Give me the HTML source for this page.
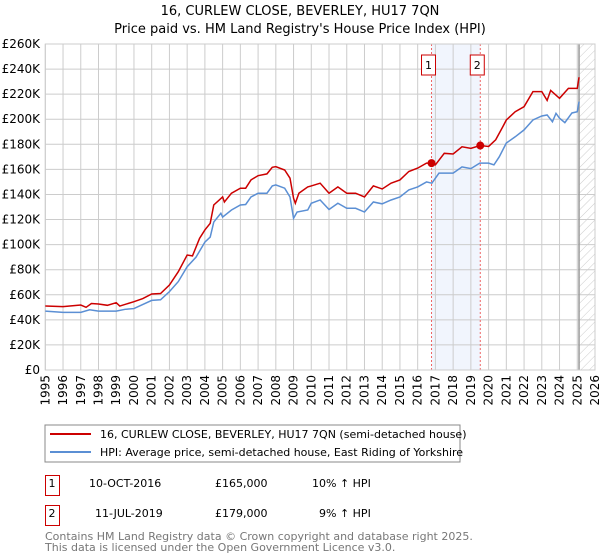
<!DOCTYPE html>
<html><head><meta charset="utf-8"><style>
body{margin:0;background:#fff;font-family:"Liberation Sans","DejaVu Sans",sans-serif}
#c{position:absolute;left:0;top:0}
.t{font-family:"DejaVu Sans","Liberation Sans",sans-serif}
</style></head><body>
<svg id="c" width="600" height="560" xmlns="http://www.w3.org/2000/svg">
<defs><pattern id="hatch" width="6" height="6" patternUnits="userSpaceOnUse" patternTransform="rotate(45)"><line x1="0" y1="0" x2="0" y2="6" stroke="#ccc" stroke-width="1"/></pattern></defs>
<text x="300" y="15" text-anchor="middle" font-size="13" class="t">16, CURLEW CLOSE, BEVERLEY, HU17 7QN</text>
<text x="300" y="33" text-anchor="middle" font-size="13" class="t">Price paid vs. HM Land Registry's House Price Index (HPI)</text>
<g id="grid"></g><g id="plot"></g>
<g>
<rect x="45" y="425" width="415" height="37" fill="#fff" stroke="#888"/>
<line x1="50" y1="434" x2="91" y2="434" stroke="#cc0000" stroke-width="2"/>
<text x="100" y="438" font-size="11" class="t">16, CURLEW CLOSE, BEVERLEY, HU17 7QN (semi-detached house)</text>
<line x1="50" y1="452" x2="91" y2="452" stroke="#5b8fd4" stroke-width="2"/>
<text x="100" y="456" font-size="11" class="t">HPI: Average price, semi-detached house, East Riding of Yorkshire</text>
</g>
<g font-size="11" class="t">
<rect x="45.5" y="475.5" width="14" height="20" fill="none" stroke="#cc0000"/><text x="52" y="487" text-anchor="middle">1</text>
<text x="89" y="487">10-OCT-2016</text><text x="215" y="487">£165,000</text><text x="312" y="487">10% ↑ HPI</text>
<rect x="45.5" y="505.5" width="14" height="20" fill="none" stroke="#cc0000"/><text x="52" y="517" text-anchor="middle">2</text>
<text x="95" y="517">11-JUL-2019</text><text x="215" y="517">£179,000</text><text x="319" y="517">9% ↑ HPI</text>
</g>
<text x="45" y="540" font-size="11" fill="#777" class="t">Contains HM Land Registry data © Crown copyright and database right 2025.</text>
<text x="45" y="551" font-size="11" fill="#777" class="t">This data is licensed under the Open Government Licence v3.0.</text>
</svg>
<script>
const yTicks=[0,20,40,60,80,100,120,140,160,180,200,220,240,260];
const xYears=[1995,1996,1997,1998,1999,2000,2001,2002,2003,2004,2005,2006,2007,2008,2009,2010,2011,2012,2013,2014,2015,2016,2017,2018,2019,2020,2021,2022,2023,2024,2025,2026];
const hpiT=[1995,1996,1997,1997.5,1998,1999,1999.5,2000,2001,2001.5,2002,2002.5,2003,2003.5,2004,2004.3,2004.5,2004.9,2005,2005.5,2006,2006.3,2006.6,2007,2007.5,2007.8,2008,2008.5,2008.8,2009,2009.2,2009.8,2010,2010.5,2011,2011.5,2012,2012.5,2013,2013.5,2014,2014.5,2015,2015.5,2016,2016.5,2016.8,2017.2,2018,2018.5,2019,2019.5,2020,2020.3,2020.6,2021,2021.5,2022,2022.5,2023,2023.3,2023.6,2023.8,2024,2024.3,2024.7,2025,2025.1];
const hpiV=[47,46,46,48,47,47,48.4,49,55.5,56,62.5,70.5,82.4,90,102,106,118,125,122,127.6,131.6,132,138,141,141,146.8,147.6,145,138,121,126,127.6,133,135.6,128,133,129,129,126,134,132.5,135.6,138,143.6,146,150,149,157,157,162,160.6,165,165,163.6,170,181,186,191.5,199.4,202.6,203.4,198,204.7,200.8,197.3,205,206,214];
const paidT=[1995,1996,1997,1997.3,1997.6,1998,1998.5,1999,1999.2,2000,2000.5,2001,2001.5,2002,2002.5,2003,2003.3,2003.7,2004,2004.3,2004.5,2005,2005.1,2005.5,2006,2006.3,2006.6,2007,2007.5,2007.8,2008,2008.5,2008.8,2009,2009.1,2009.3,2009.8,2010,2010.5,2011,2011.5,2012,2012.5,2013,2013.5,2014,2014.5,2015,2015.5,2016,2016.5,2016.78,2017,2017.5,2018,2018.5,2019,2019.53,2020,2020.4,2020.8,2021,2021.5,2022,2022.5,2023,2023.3,2023.5,2024,2024.5,2025,2025.1];
const paidV=[51,50.5,51.8,50,53,52.6,51.6,53.7,51,54.5,57,60.6,61,67.8,78.4,91.7,91,105,111.7,117,131.6,138,134,141,145,145,151.6,155,156.4,161.7,162.2,159.5,153,137,133,141,146,146.8,149,141,146,141,141,138,146.8,144.4,149,151.6,158.3,161,165,165,163.6,172.8,172.3,178,176.8,179,178.3,183.6,194,199.4,206,210,222,222,215,223,216.7,224.6,224.6,233.5];
const saleT=[2016.78,2019.53];
const saleV=[165,179];
const saleLabels=["1","2"];
const X0=45.3,X1=595,Y0=370,Y1=44;
const x=t=>X0+(t-1995)*(X1-X0)/31;
const y=v=>Y0-v*(Y0-Y1)/260;
const NS="http://www.w3.org/2000/svg";
function mk(tag,attrs,parent,txt){const e=document.createElementNS(NS,tag);for(const k in attrs)e.setAttribute(k,attrs[k]);if(txt!==undefined)e.textContent=txt;parent.appendChild(e);return e;}
const g=document.getElementById('grid'),p=document.getElementById('plot');
let sh=mk('rect',{x:x(saleT[0]),y:Y1,width:x(saleT[1])-x(saleT[0]),height:Y0-Y1,fill:'#eef3fc',opacity:0.8},g);


yTicks.forEach(v=>{
 let l=mk('line',{x1:X0,x2:X1,y1:y(v),y2:y(v),stroke:'#ccc'},g);
 
 
 let t=mk('text',{x:40,y:y(v)+4,'text-anchor':'end','font-size':12,class:'t'},g,v===0?'£0':'£'+v+'K');
 
 
});
xYears.forEach(yr=>{
 let l=mk('line',{x1:x(yr),x2:x(yr),y1:Y1,y2:Y0,stroke:'#ccc'},g);
 
 
 const xx=x(yr)+4,yy=375;
 let t=mk('text',{x:xx,y:yy,'text-anchor':'end','font-size':12,class:'t',transform:'rotate(-90 '+xx+' '+yy+')'},g,String(yr));
 
 
});
let hz=mk('rect',{x:x(2025.1),y:Y1,width:X1-x(2025.1),height:Y0-Y1,fill:'url(#hatch)'},g);


let vl=mk('line',{x1:x(2025.1),x2:x(2025.1),y1:Y1,y2:Y0,stroke:'#999','stroke-width':1.5},g);


saleT.forEach((t,i)=>{
 let l=mk('line',{x1:x(t),x2:x(t),y1:Y1,y2:Y0,stroke:'#ee6666','stroke-dasharray':'2,2'},g);
 
 
 let b=mk('rect',{x:x(t)-10,y:55,width:14,height:20,fill:'#fff',stroke:'#cc0000'},g);
 
 
 let tx=mk('text',{x:x(t)-3,y:69,'text-anchor':'middle','font-size':11,class:'t'},g,saleLabels[i]);
 
 
});
mk('rect',{x:X0,y:Y1,width:X1-X0,height:Y0-Y1,fill:'none',stroke:'#ccc'},g);
const hp=mk('polyline',{points:hpiT.map((t,i)=>x(t)+','+y(hpiV[i])).join(' '),fill:'none',stroke:'#5b8fd4','stroke-width':1.5},p);


const pp=mk('polyline',{points:paidT.map((t,i)=>x(t)+','+y(paidV[i])).join(' '),fill:'none',stroke:'#cc0000','stroke-width':1.5},p);


saleT.forEach((t,i)=>{
 let c=mk('circle',{cx:x(t),cy:y(saleV[i]),r:4,fill:'#cc0000'},p);
 
 
});
</script>
</body></html>
